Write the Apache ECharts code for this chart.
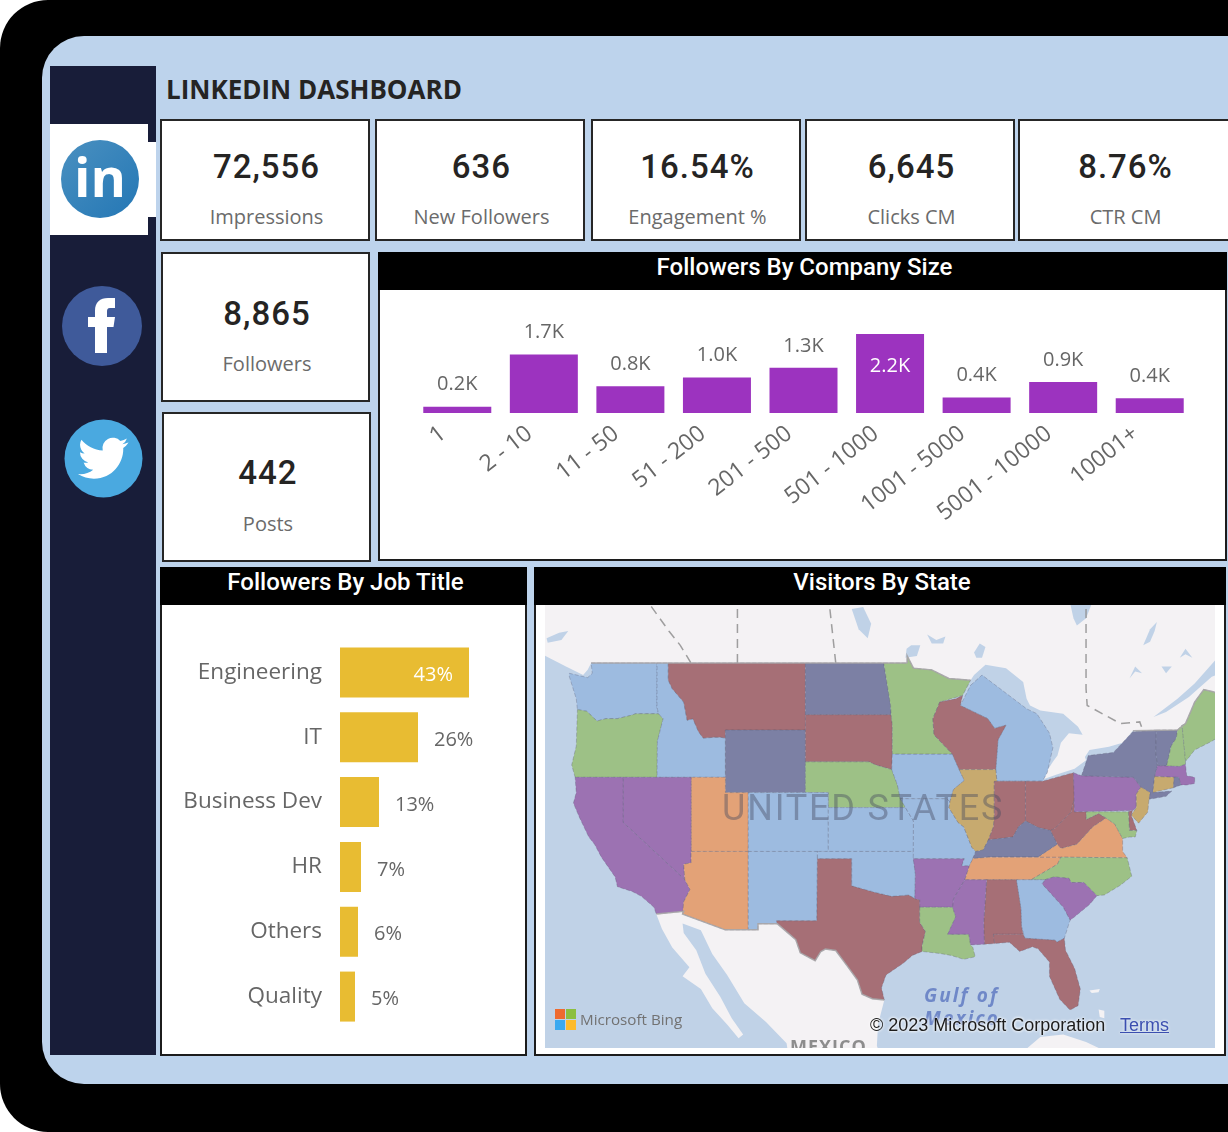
<!DOCTYPE html>
<html>
<head>
<meta charset="utf-8">
<title>LinkedIn Dashboard</title>
<script src="https://cdn.jsdelivr.net/npm/echarts@6/dist/echarts.min.js"></script>
<style>
  html, body { margin: 0; padding: 0; width: 1228px; height: 1132px; overflow: hidden; background: #fff; font-family: "Open Sans", sans-serif; }
  .box { position: absolute; box-sizing: border-box; }
  .frame { left: 0; top: 0; width: 1400px; height: 1132px; background: #000; border-radius: 48px; }
  .inner { left: 42px; top: 36px; width: 1300px; height: 1048px; background: #bdd3ec; border-radius: 42px; }
  .side { left: 50px; top: 66px; width: 106px; height: 989px; background: #181d39; }
  .tab { left: 50px; top: 124px; width: 98px; height: 111px; background: #fff; }
  .notch { left: 148px; top: 142px; width: 8px; height: 75px; background: #fff; }
  .title { left: 166px; top: 71px; font: 700 26px "Open Sans", sans-serif; color: #252423; white-space: nowrap; }
  .card { background: #fff; border: 2px solid #262626; text-align: center; }
  .num, .lab { position: absolute; left: 3px; right: 0; line-height: 1; white-space: nowrap; }
  .num { font: 500 33px Roboto, sans-serif; color: #252423; letter-spacing: 1px; }
  .lab { font: 400 20px "Open Sans", sans-serif; color: #6b6b6b; }
  .panel { background: #fff; border: 2px solid #1c1c1c; }
  .head { position: absolute; left: -2px; right: -2px; top: -2px; height: 38px; padding-left: 4px; box-sizing: border-box; background: #000; color: #fff; text-align: center; font: 500 24px/31px Roboto, sans-serif; }
  .mapnote { position: absolute; white-space: nowrap; line-height: 1; }
  svg.icons { position: absolute; left: 0; top: 0; }
</style>
</head>
<body>
<div class="box frame"></div>
<div class="box inner"></div>
<div class="box side"></div>
<div class="box tab"></div>
<div class="box notch"></div>
<svg class="icons" width="1228" height="400">
  <defs>
    <linearGradient id="ing" x1="0" y1="0" x2="1" y2="1">
      <stop offset="0" stop-color="#4a90c0"></stop>
      <stop offset="1" stop-color="#2477b5"></stop>
    </linearGradient>
  </defs>
  <circle cx="100" cy="179" r="39" fill="url(#ing)"></circle>
  <text x="100" y="197" text-anchor="middle" font-family="Open Sans" font-weight="700" font-size="54" fill="#fff">in</text>
  <circle cx="102" cy="326" r="40" fill="#3f5a9a"></circle>
  <path fill="#fff" d="M95 353V327H88V317H95V311C95 302 100 298 108 298H115V308H110C107.5 308 107 309.5 107 312V317H115L113.5 327H107V353Z"></path>
</svg>
<svg class="icons" style="left:64px;top:419px" width="79" height="79" viewBox="0 0 79 79">
  <circle cx="39.5" cy="39.5" r="39" fill="#4aa9e0"></circle>
  <g transform="translate(14,14) scale(2.1)"><path fill="#fff" d="M23.953 4.57a10 10 0 01-2.825.775 4.958 4.958 0 002.163-2.723c-.951.555-2.005.959-3.127 1.184a4.92 4.92 0 00-8.384 4.482C7.69 8.095 4.067 6.13 1.64 3.162a4.822 4.822 0 00-.666 2.475c0 1.71.87 3.213 2.188 4.096a4.904 4.904 0 01-2.228-.616v.06a4.923 4.923 0 003.946 4.827 4.996 4.996 0 01-2.212.085 4.936 4.936 0 004.604 3.417 9.867 9.867 0 01-6.102 2.105c-.39 0-.779-.023-1.17-.067a13.995 13.995 0 007.557 2.209c9.053 0 13.998-7.496 13.998-13.985 0-.21 0-.42-.015-.63A9.935 9.935 0 0024 4.59z"></path></g>
</svg>
<div class="box title">LINKEDIN DASHBOARD</div>
<div id="cards"></div>

<div class="box panel" style="left:378px;top:252px;width:849px;height:309px"><div class="head">Followers By Company Size</div></div>
<div class="box panel" style="left:160px;top:567px;width:367px;height:489px"><div class="head">Followers By Job Title</div></div>
<div class="box panel" style="left:534px;top:567px;width:692px;height:489px"><div class="head">Visitors By State</div></div>

<div id="companyChart" class="box" style="left:380px;top:290px;width:845px;height:269px"></div>
<div id="jobChart" class="box" style="left:162px;top:605px;width:363px;height:449px"></div>
<div id="mapChart" class="box" style="left:545px;top:605px;width:670px;height:443px"></div>

<div class="box" style="left:545px;top:605px;width:670px;height:443px;overflow:hidden;pointer-events:none">
  <div class="mapnote" style="left:177px;top:182px;font:400 36px Roboto,sans-serif;letter-spacing:1.8px;color:rgba(70,75,95,.42)">UNITED STATES</div>
  <div class="mapnote" style="left:379px;top:377px;font:italic 700 19px 'Open Sans',sans-serif;letter-spacing:2.1px;color:#6f88c8">Gulf of</div>
  <div class="mapnote" style="left:379px;top:400px;font:italic 700 19px 'Open Sans',sans-serif;letter-spacing:2.1px;color:#6f88c8">Mexico</div>
  <div class="mapnote" style="left:245px;top:429px;font:700 18px 'Open Sans',sans-serif;letter-spacing:1px;color:#8d8d8d">MEXICO</div>
  <svg style="position:absolute;left:10px;top:404px" width="21" height="21">
    <rect x="0" y="0" width="10" height="10" fill="#ee6a2f"></rect>
    <rect x="11" y="0" width="10" height="10" fill="#8cbf3f"></rect>
    <rect x="0" y="11" width="10" height="10" fill="#3ba9f0"></rect>
    <rect x="11" y="11" width="10" height="10" fill="#fdbb2d"></rect>
  </svg>
  <div class="mapnote" style="left:35px;top:404px;font:400 15.2px 'Open Sans',sans-serif;color:#727272">Microsoft Bing</div>
  <div class="mapnote" style="left:325px;top:410px;font:400 18px 'Liberation Sans',sans-serif;color:#1c1c1c;text-shadow:0 0 3px #fff,0 0 3px #fff">© 2023 Microsoft Corporation</div>
  <div class="mapnote" style="left:575px;top:410px;font:400 18px 'Liberation Sans',sans-serif;color:#3b4fb0;text-decoration:underline;text-shadow:0 0 3px #fff">Terms</div>
</div>

<script>
// kpi cards
const cardNumbers = ["72,556", "636", "16.54%", "6,645", "8.76%", "8,865", "442"];
const cardLabels = ["Impressions", "New Followers", "Engagement %", "Clicks CM", "CTR CM", "Followers", "Posts"];
const cardBoxes = [[160, 119, 210, 122, 28, 84], [375, 119, 210, 122, 28, 84], [591, 119, 210, 122, 28, 84], [805, 119, 210, 122, 28, 84], [1018, 119, 212, 122, 28, 84], [161, 252, 209, 150, 42, 98], [162, 412, 209, 150, 41, 98]];

// followers by company size
const sizeCategories = ["1", "2 - 10", "11 - 50", "51 - 200", "201 - 500", "501 - 1000", "1001 - 5000", "5001 - 10000", "10001+"];
const sizeValues = [180, 1660, 760, 1010, 1280, 2240, 440, 880, 420];

// followers by job title
const jobTitles = ["Engineering", "IT", "Business Dev", "HR", "Others", "Quality"];
const jobShares = [43, 26, 13, 7, 6, 5];

// state outlines, lon/lat
const WA = [[-122.8,49],[-117.03,49],[-117.04,46.4],[-116.9,46],[-118.9,46],[-119.3,45.9],[-120.5,45.7],[-121.5,45.7],[-122.3,45.55],[-122.8,45.9],[-123.2,46.15],[-124,46.25],[-124.1,46.9],[-124.7,48.2],[-124.7,48.4],[-123.1,48.15],[-122.7,48.4]];
const OR = [[-124,46.25],[-123.2,46.15],[-122.8,45.9],[-122.3,45.55],[-121.5,45.7],[-120.5,45.7],[-119.3,45.9],[-118.9,46],[-116.9,46],[-116.5,45.7],[-117,44.3],[-117.03,42],[-124.2,42],[-124.5,42.8],[-124.1,44]];
const ID = [[-117.03,49],[-116.05,49],[-116.05,48],[-115.7,47.5],[-114.7,46.7],[-114.4,45.6],[-113.9,45.7],[-113.4,44.9],[-113,44.5],[-112,44.55],[-111.5,44.55],[-111.05,44.5],[-111.05,42],[-117.03,42],[-117,44.3],[-116.5,45.7],[-116.9,46],[-117.04,46.4]];
const MT = [[-116.05,49],[-104.05,49],[-104.05,45],[-111.05,45],[-111.05,44.5],[-111.5,44.55],[-112,44.55],[-113,44.5],[-113.4,44.9],[-113.9,45.7],[-114.4,45.6],[-114.7,46.7],[-115.7,47.5],[-116.05,48]];
const WY = [[-111.05,45],[-104.05,45],[-104.05,41],[-111.05,41]];
const ND = [[-104.05,49],[-97.2,49],[-96.6,46.5],[-96.55,45.94],[-104.05,45.94]];
const SD = [[-104.05,45.94],[-96.55,45.94],[-96.45,45.3],[-96.45,43.5],[-96.5,42.5],[-97.9,42.8],[-98.5,43],[-104.05,43]];
const NE = [[-104.05,43],[-98.5,43],[-97.9,42.8],[-96.5,42.5],[-96,41.5],[-95.3,40],[-102.05,40],[-102.05,41],[-104.05,41]];
const UT = [[-114.05,42],[-111.05,42],[-111.05,41],[-109.05,41],[-109.05,37],[-114.05,37]];
const CO = [[-109.05,41],[-102.05,41],[-102.05,37],[-109.05,37]];
const KS = [[-102.05,40],[-95.3,40],[-94.6,39.1],[-94.6,37],[-102.05,37]];
const NV = [[-120,42],[-114.05,42],[-114.05,36.2],[-114.7,36.1],[-114.6,35],[-120,39]];
const CA = [[-124.2,42],[-120,42],[-120,39],[-114.6,35],[-114.15,34.3],[-114.7,33.4],[-114.7,32.7],[-117.1,32.5],[-117.3,33],[-118.4,33.8],[-119.2,34.15],[-120.5,34.5],[-120.7,35.2],[-121.9,36.6],[-122.5,37.5],[-123,38],[-123.8,39.3],[-124.35,40.3],[-124.1,41]];
const AZ = [[-114.05,37],[-109.05,37],[-109.05,31.33],[-111.07,31.33],[-114.8,32.5],[-114.7,33.4],[-114.15,34.3],[-114.6,35],[-114.7,36.1],[-114.05,36.2]];
const NM = [[-109.05,37],[-103,37],[-103.05,32],[-106.6,32],[-106.5,31.78],[-108.2,31.78],[-108.2,31.33],[-109.05,31.33]];
const TX = [[-103,36.5],[-100,36.5],[-100,34.56],[-98,34.1],[-96.5,33.8],[-95,33.9],[-94.48,33.64],[-94.05,33.55],[-94.05,31.9],[-93.55,31.2],[-93.85,30.1],[-93.85,29.7],[-94.7,29.4],[-95.5,28.8],[-97,27.9],[-97.4,26.9],[-97.15,25.95],[-98.2,26.05],[-99.1,26.4],[-99.5,27.5],[-100.4,28.6],[-101.4,29.77],[-102.3,29.88],[-102.7,29.7],[-103.2,29],[-104.5,29.6],[-104.9,30.6],[-106.5,31.78],[-106.6,32],[-103.05,32]];
const OK = [[-103,37],[-94.62,37],[-94.43,35.4],[-94.48,33.64],[-95,33.9],[-96.5,33.8],[-98,34.1],[-100,34.56],[-100,36.5],[-103,36.5]];
const AR = [[-94.62,36.5],[-90.15,36.5],[-90.37,36],[-89.7,36],[-90.1,35],[-91.1,33.6],[-91.17,33],[-94.05,33],[-94.05,33.55],[-94.48,33.64],[-94.43,35.4]];
const LA = [[-94.05,33],[-91.17,33],[-90.9,32.3],[-91.6,31],[-89.75,31],[-89.6,30.2],[-89.4,30],[-89.2,29.3],[-90.2,29.1],[-91.3,29.4],[-92.3,29.55],[-93.85,29.7],[-93.85,30.1],[-93.55,31.2],[-94.05,31.9]];
const MO = [[-95.77,40.6],[-91.7,40.6],[-91.4,40.4],[-91.5,40],[-90.7,39],[-90.2,38.7],[-89.5,37.3],[-89.15,37],[-89.4,36.5],[-89.7,36],[-90.37,36],[-90.15,36.5],[-94.62,36.5],[-94.6,39.1],[-95.3,40]];
const IA = [[-96.5,42.5],[-96.45,43.5],[-91.2,43.5],[-90.6,42.5],[-90.15,41.8],[-91.1,41.2],[-91.4,40.4],[-91.7,40.6],[-95.77,40.6],[-96,41.5]];
const MN = [[-97.2,49],[-95.15,49],[-95.15,49.4],[-94.6,48.7],[-93,48.6],[-91.5,48.1],[-89.6,48],[-90.3,47.1],[-92.3,46.7],[-92.9,45.7],[-92.8,44.7],[-91.2,43.5],[-96.45,43.5],[-96.45,45.3],[-96.55,45.94],[-96.6,46.5]];
const WI = [[-92.3,46.7],[-90.9,46.9],[-90.3,47.1],[-90.5,46.5],[-88.1,45.7],[-87.5,45.1],[-86.5,45.3],[-87.2,44.4],[-87.4,42.5],[-90.6,42.5],[-91.2,43.5],[-92.8,44.7],[-92.9,45.7]];
const MI = [[-89.6,47.7],[-88.6,48.3],[-84.7,46.3],[-83.8,46],[-82.7,44.8],[-82.4,43.9],[-82.9,42.3],[-83.3,41.75],[-87.3,41.75],[-87.4,42.5],[-87.2,44.4],[-86.5,45.3],[-87.5,45.1],[-88.1,45.7],[-90.5,46.5]];
const IL = [[-90.6,42.5],[-87.4,42.5],[-87.3,41.75],[-87.53,41.7],[-87.53,39.3],[-87.6,38.7],[-88.05,37.8],[-88.5,37.1],[-89.15,37],[-89.5,37.3],[-90.2,38.7],[-90.7,39],[-91.5,40],[-91.4,40.4],[-91.1,41.2],[-90.15,41.8]];
const IN = [[-87.53,41.75],[-84.8,41.75],[-84.8,39.1],[-85.4,38.7],[-85.9,38],[-87,37.9],[-88.05,37.8],[-87.6,38.7],[-87.53,39.3]];
const OH = [[-84.8,41.75],[-83.3,41.75],[-80.6,42.3],[-80.52,40.6],[-80.8,39.7],[-81.7,39],[-82.2,38.6],[-82.6,38.45],[-83.7,38.65],[-84.8,39.1]];
const KY = [[-89.4,36.5],[-89.15,37],[-88.5,37.1],[-88.05,37.8],[-87,37.9],[-85.9,38],[-85.4,38.7],[-84.8,39.1],[-83.7,38.65],[-82.6,38.45],[-82,37.5],[-83.7,36.6],[-88,36.6]];
const TN = [[-90.1,35],[-89.7,36],[-89.4,36.5],[-88,36.6],[-83.7,36.6],[-81.7,36.6],[-82,36.1],[-84.3,35]];
const WV = [[-82.6,38.45],[-82.2,38.6],[-81.7,39],[-80.8,39.7],[-80.52,40.6],[-80.52,39.72],[-79.48,39.72],[-79.48,39.2],[-78.4,39.6],[-77.75,39.3],[-78.9,38.7],[-80.3,37.5],[-81.7,37.2],[-82,37.5]];
const VA = [[-83.7,36.6],[-82,37.5],[-81.7,37.2],[-80.3,37.5],[-78.9,38.7],[-77.75,39.3],[-77,38.9],[-76.3,37.9],[-76.3,37],[-75.9,36.55],[-81.7,36.6]];
const NC = [[-84.3,35],[-82,36.1],[-81.7,36.6],[-75.9,36.55],[-75.5,35.25],[-76.5,34.6],[-77.9,33.9],[-78.55,33.85],[-79.7,34.8],[-80.8,34.8],[-81,35.1],[-82.3,35.2],[-83.1,35]];
const SC = [[-83.1,35],[-82.3,35.2],[-81,35.1],[-80.8,34.8],[-79.7,34.8],[-78.55,33.85],[-79.2,33.2],[-80.5,32.3],[-80.9,32.05],[-81.5,33],[-83.35,34.7]];
const GA = [[-85.6,35],[-84.3,35],[-83.1,35],[-83.35,34.7],[-81.5,33],[-80.9,32.05],[-81.4,30.7],[-82.05,30.4],[-82.2,30.55],[-84.85,30.7],[-85.15,31.6],[-85.2,32.9]];
const AL = [[-88.2,35],[-85.6,35],[-85.2,32.9],[-85.15,31.6],[-85,31],[-87.6,31],[-87.5,30.3],[-88.4,30.25],[-88.45,31.9]];
const MS = [[-90.1,35],[-88.2,35],[-88.45,31.9],[-88.4,30.25],[-89.6,30.2],[-89.75,31],[-91.6,31],[-90.9,32.3],[-91.17,33],[-91.1,33.6]];
const FL = [[-87.6,31],[-85,31],[-84.85,30.7],[-82.2,30.55],[-82.05,30.4],[-81.4,30.7],[-81.3,29.8],[-80.5,28.4],[-80,26.8],[-80.2,25.5],[-80.9,25.15],[-81.8,26],[-82.7,27.8],[-82.7,28.9],[-83.7,29.9],[-84.2,30.05],[-85.3,29.7],[-86.2,30.4],[-87.5,30.3]];
const PA = [[-80.6,42.3],[-79.9,42.1],[-75.35,42],[-74.7,41.36],[-75.1,40.9],[-75.1,40],[-75.42,39.8],[-80.52,39.72]];
const NY = [[-79.9,42.1],[-79.3,43.4],[-77.1,43.6],[-75.4,44.9],[-73.35,45],[-73.4,43.6],[-73.25,42.75],[-73.5,42.05],[-73.65,41],[-72,41.1],[-72.5,40.75],[-74,40.55],[-73.9,41],[-74.7,41.36],[-75.35,42]];
const VT = [[-73.35,45],[-71.5,45],[-71.6,44.5],[-72.05,44],[-72.45,42.73],[-73.25,42.75],[-73.4,43.6]];
const NH = [[-71.5,45],[-71.1,45.3],[-70.8,43.1],[-70.8,42.85],[-71.3,42.7],[-72.45,42.73],[-72.05,44],[-71.6,44.5]];
const ME = [[-71.1,45.3],[-70.8,45.4],[-70.3,46.2],[-70,46.7],[-69.2,47.45],[-68.3,47.3],[-67.8,47.1],[-67.8,45.7],[-67,45],[-68.5,44.3],[-70,43.75],[-70.7,43.1],[-70.8,43.1]];
const MA = [[-73.5,42.05],[-73.25,42.75],[-72.45,42.73],[-71.3,42.7],[-70.8,42.85],[-70.7,42.1],[-70,42],[-70,41.6],[-70.7,41.5],[-71.2,41.5],[-71.4,42],[-71.8,42]];
const CT = [[-73.5,42.05],[-71.8,42],[-71.85,41.32],[-73.65,41]];
const RI = [[-71.8,42],[-71.4,42],[-71.2,41.5],[-71.85,41.32]];
const NJ = [[-74.7,41.36],[-73.9,41],[-74,40.5],[-74.1,39.7],[-74.9,38.95],[-75.55,39.5],[-75.1,40],[-75.1,40.9]];
const DE = [[-75.8,39.72],[-75.42,39.8],[-75.55,39.5],[-75.05,38.45],[-75.7,38.45]];
const MD = [[-79.48,39.72],[-75.8,39.72],[-75.7,38.45],[-75.05,38.45],[-75.2,38],[-75.7,38],[-76.3,37.9],[-77,38.9],[-77.75,39.3],[-78.4,39.6],[-79.48,39.2]];

// base map land and water, lon/lat
const canadaLand = [[-128,49.8],[-125,48.8],[-123.5,48.3],[-123.1,48.6],[-122.8,49],[-95.15,49],[-95.15,49.4],[-94.6,48.7],[-93,48.6],[-91.5,48.1],[-89.6,48],[-89.3,48.3],[-88.3,48.9],[-86.5,48.7],[-85,47.9],[-84.7,46.9],[-84.4,46.5],[-83.5,46.2],[-81.5,46],[-80.2,45.2],[-79.8,44.7],[-81,44.8],[-81.7,44.2],[-82,43.4],[-82.4,43],[-83.1,42.2],[-83.3,41.85],[-82,42.2],[-80.5,42.55],[-79.5,43.1],[-79.6,43.3],[-79.2,43.75],[-77.5,43.95],[-76.3,44.2],[-75.4,44.95],[-71.5,45],[-70.8,45.4],[-70.3,46.2],[-70,46.7],[-69.2,47.45],[-68.3,47.3],[-67.8,47.1],[-67.8,45.7],[-67,45],[-65,45],[-65,53],[-128,53]];
const mexicoLand = [[-117.1,32.5],[-116.6,31.4],[-115.7,30],[-114.2,28.5],[-114.8,27.8],[-113.2,26.8],[-112.2,25.3],[-110.9,24],[-109.9,22.9],[-109.5,23.2],[-110.5,24.5],[-111.5,26.2],[-112.8,28],[-113.6,29.8],[-114.7,31.1],[-114.8,31.8],[-113.2,31.3],[-112.2,29.5],[-110.9,27.9],[-109.4,25.7],[-107.5,24.2],[-105.7,22.5],[-105.3,20],[-97,20],[-97.8,22.3],[-97.7,24],[-97.15,25.95],[-98.2,26.05],[-99.1,26.4],[-99.5,27.5],[-100.4,28.6],[-101.4,29.77],[-102.3,29.88],[-102.7,29.7],[-103.2,29],[-104.5,29.6],[-104.9,30.6],[-106.5,31.78],[-108.2,31.78],[-108.2,31.33],[-111.07,31.33],[-114.8,32.5],[-114.7,32.7]];
const cubaLand = [[-84.9,21.9],[-83.5,23],[-81.5,23.2],[-79.5,22.6],[-77,21.5],[-78,20],[-82,21],[-84,21]];
const grandBahama = [[-79.2,26.7],[-78.3,26.8],[-78.4,26.55],[-79,26.5]];
const androsIsland = [[-78.4,25.2],[-77.9,25.1],[-77.9,24.5],[-78.3,24.6]];
const lakeWinnipeg = [[-100,52],[-99,52.1],[-98.3,51.2],[-98.6,50.4],[-99.4,50.9]];
const lakeOfWoods = [[-95.3,49.3],[-94.3,49.4],[-94,50],[-94.8,50],[-95.2,49.8]];
const lacSeul = [[-93.4,50.6],[-92.6,50.3],[-91.8,50.5],[-92,50.1],[-93,50.1]];
const lakeNipigon = [[-89.3,49.6],[-88.8,50.1],[-88.3,49.9],[-88.6,49.3],[-89.1,49.3]];
const jamesBay = [[-81,52.6],[-78.8,52.6],[-79.5,51.5],[-80.3,51.1],[-80.6,51.5]];
const lakeMistassini = [[-73.3,51.3],[-73.9,50.9],[-74.5,50],[-73.9,50.2],[-73.5,50.8]];
const lakePipmuacan = [[-71.3,49.3],[-70.8,49.8],[-70.2,49.3],[-70.8,49.5]];
const lakeGouin = [[-75.7,48.1],[-75.2,48.8],[-74.6,48.4],[-75.2,48.5]];
const lakeStJean = [[-72.9,48.8],[-72,48.8],[-72.5,48.4]];
const stLawrence = [[-73.6,45.8],[-71.5,46.9],[-70,47.8],[-68,49.3],[-66.5,49.4],[-66.5,48.7],[-68.5,48.2],[-70.5,47],[-72.5,46.1]];
const straitGeorgia = [[-126.7,50.4],[-125.6,50.7],[-124.8,50.8],[-125.4,50.3],[-126.6,50.15]];

// province and national border lines, lon/lat
const provinceLines = [
  [[-114.07,49],[-115,50],[-116,50.8],[-117.5,52.1],[-118,52.5]],
  [[-110,49],[-110,52.5]],
  [[-101.4,49],[-102,52.5]],
  [[-79.5,52],[-79.5,47.5],[-79.4,46.5],[-76.5,45.4],[-74.8,45.5],[-74.6,45.1]]
];
const borderLines = [
  [[-122.8,49],[-95.15,49]],
  [[-95.15,49],[-95.15,49.4],[-94.6,48.7],[-93,48.6],[-91.5,48.1],[-89.6,48]],
  [[-75.4,44.95],[-71.5,45],[-70.8,45.4],[-70.3,46.2],[-70,46.7],[-69.2,47.45],[-68.3,47.3],[-67.8,47.1]],
  [[-117.1,32.5],[-114.7,32.7],[-114.8,32.5],[-111.07,31.33],[-108.2,31.33],[-108.2,31.78],[-106.5,31.78],[-104.9,30.6],[-104.5,29.6],[-103.2,29],[-102.7,29.7],[-102.3,29.88],[-101.4,29.77],[-100.4,28.6],[-99.5,27.5],[-99.1,26.4],[-98.2,26.05],[-97.15,25.95]]
];

const maroonStates = ["MT", "SD", "WI", "IN", "OH", "WV", "TX", "AL", "FL", "DE"];
const slateStates = ["WY", "ND", "KY", "NY", "VT", "RI"];
const greenStates = ["OR", "NE", "MN", "LA", "NC", "NH", "ME", "MD"];
const blueStates = ["WA", "ID", "MI", "IA", "KS", "MO", "CO", "NM", "OK", "GA"];
const purpleStates = ["CA", "NV", "AR", "MS", "SC", "PA", "MA"];
const orangeStates = ["UT", "AZ", "TN", "VA"];
const tanStates = ["IL", "NJ", "CT"];

const stateOutlines = { WA, OR, ID, MT, WY, ND, SD, NE, UT, CO, KS, NV, CA, AZ, NM, TX, OK, AR, LA, MO, IA, MN, MI, WI, IL, IN, OH, KY, TN, WV, VA, NC, SC, GA, AL, MS, FL, PA, NY, VT, NH, ME, MA, CT, RI, NJ, DE, MD };
const landShapes = { canadaLand, mexicoLand, cubaLand, grandBahama, androsIsland };
const waterShapes = { lakeWinnipeg, lakeOfWoods, lacSeul, lakeNipigon, jamesBay, lakeMistassini, lakePipmuacan, lakeGouin, lakeStJean, stLawrence, straitGeorgia };

const LAND = "#f4f2f4";
const WATER = "#c0d2e7";
const LABEL_GREY = "#666666";
const FONT = "Open Sans";

// cards
const cardsEl = document.getElementById("cards");
cardNumbers.forEach((num, i) => {
  const [x, y, w, h, numY, labY] = cardBoxes[i];
  const el = document.createElement("div");
  el.className = "box card";
  el.style.cssText = `left:${x}px;top:${y}px;width:${w}px;height:${h}px`;
  el.innerHTML = `<div class="num" style="top:${numY - 2}px">${num}</div><div class="lab" style="top:${labY - 2}px">${cardLabels[i]}</div>`;
  cardsEl.appendChild(el);
});

// company size bars
const companyChart = echarts.init(document.getElementById("companyChart"));
const maxIndex = sizeValues.indexOf(Math.max.apply(null, sizeValues));
companyChart.setOption({
  animation: false,
  grid: { left: 34, top: 44, width: 779, height: 79 },
  xAxis: {
    type: "category",
    data: sizeCategories,
    axisLine: { show: false },
    axisTick: { show: false },
    axisLabel: { interval: 0, rotate: 38, margin: 7, padding: [0, 18, 0, 0], fontSize: 23, fontFamily: FONT, color: LABEL_GREY }
  },
  yAxis: { type: "value", min: 0, max: 2240, show: false },
  series: [{
    type: "bar",
    barWidth: 68,
    itemStyle: { color: "#9c33bf" },
    data: sizeValues.map((v, i) => ({
      value: v,
      label: i === maxIndex
        ? { position: "insideTop", distance: 22, color: "#fff" }
        : { position: "top", distance: 12, color: LABEL_GREY }
    })),
    label: {
      show: true,
      fontSize: 20,
      fontFamily: FONT,
      formatter: p => (p.value / 1000).toFixed(1) + "K"
    }
  }]
});

// job title bars
const jobChart = echarts.init(document.getElementById("jobChart"));
jobChart.setOption({
  animation: false,
  grid: { left: 178, top: 35, width: 129, height: 389 },
  xAxis: { type: "value", min: 0, max: 43, show: false },
  yAxis: {
    type: "category",
    inverse: true,
    data: jobTitles,
    axisLine: { show: false },
    axisTick: { show: false },
    axisLabel: { margin: 18, padding: [8, 0, 0, 0], fontSize: 22.5, fontFamily: FONT, color: LABEL_GREY }
  },
  series: [{
    type: "bar",
    barWidth: 50,
    itemStyle: { color: "#e8bc32" },
    data: jobShares.map((v, i) => ({
      value: v,
      label: i === 0
        ? { position: "insideRight", distance: 16, color: "#fff" }
        : { position: "right", distance: 16, color: LABEL_GREY }
    })),
    label: { show: true, fontSize: 20, fontFamily: FONT, offset: [0, 3], formatter: p => p.value + "%" }
  }]
});

// state map. web mercator: 11.43 px per degree, offset to the map box
const mercator = lat => Math.log(Math.tan(Math.PI / 4 + lat * Math.PI / 360));
const project = ([lon, lat]) => [181 + (lon + 111) * 11.43, 125 - (mercator(lat) - 0.8814) * 655];
const unproject = ([x, y]) => [(x - 181) / 11.43 - 111, (2 * Math.atan(Math.exp((125 - y) / 655 + 0.8814)) - Math.PI / 2) * 180 / Math.PI];

const toFeature = (name, ring) => ({
  type: "Feature",
  properties: { name },
  geometry: { type: "Polygon", coordinates: [ring] }
});
const features = [];
Object.keys(landShapes).forEach(k => features.push(toFeature(k, landShapes[k])));
Object.keys(waterShapes).forEach(k => features.push(toFeature(k, waterShapes[k])));
Object.keys(stateOutlines).forEach(k => features.push(toFeature(k, stateOutlines[k])));
echarts.registerMap("usaBase", { type: "FeatureCollection", features });

const groupRegions = (names, color) => names.map(name => ({
  name,
  itemStyle: { areaColor: color, borderColor: "rgba(85,85,110,.3)", borderWidth: 1, borderType: "dashed" }
}));
const baseRegions = (names, color) => names.map(name => ({
  name,
  itemStyle: { areaColor: color, borderColor: color, borderWidth: 0 }
}));

const mapChart = echarts.init(document.getElementById("mapChart"));
mapChart.setOption({
  animation: false,
  backgroundColor: WATER,
  geo: {
    map: "usaBase",
    roam: false,
    silent: true,
    projection: { project, unproject },
    boundingCoords: [unproject([0, 0]), unproject([670, 443])],
    layoutCenter: ["50%", "50%"],
    layoutSize: 670,
    label: { show: false },
    itemStyle: { areaColor: LAND, borderWidth: 0 },
    emphasis: { disabled: true },
    select: { disabled: true },
    regions: [
      ...baseRegions(Object.keys(landShapes), LAND),
      ...baseRegions(Object.keys(waterShapes), WATER),
      ...groupRegions(maroonStates, "#a66f76"),
      ...groupRegions(slateStates, "#7c80a4"),
      ...groupRegions(greenStates, "#9dc186"),
      ...groupRegions(blueStates, "#9dbbe0"),
      ...groupRegions(purpleStates, "#9c72b2"),
      ...groupRegions(orangeStates, "#e3a277"),
      ...groupRegions(tanStates, "#c7aa6f")
    ]
  },
  series: [
    {
      type: "lines",
      coordinateSystem: "geo",
      polyline: true,
      silent: true,
      lineStyle: { color: "#8f8f8f", width: 1.5, type: [9, 6], opacity: 0.85 },
      data: provinceLines.map(coords => ({ coords }))
    },
    {
      type: "lines",
      coordinateSystem: "geo",
      polyline: true,
      silent: true,
      lineStyle: { color: "#a8a6a8", width: 1.5, opacity: 0.9 },
      data: borderLines.map(coords => ({ coords }))
    }
  ]
});
</script>
</body>
</html>
